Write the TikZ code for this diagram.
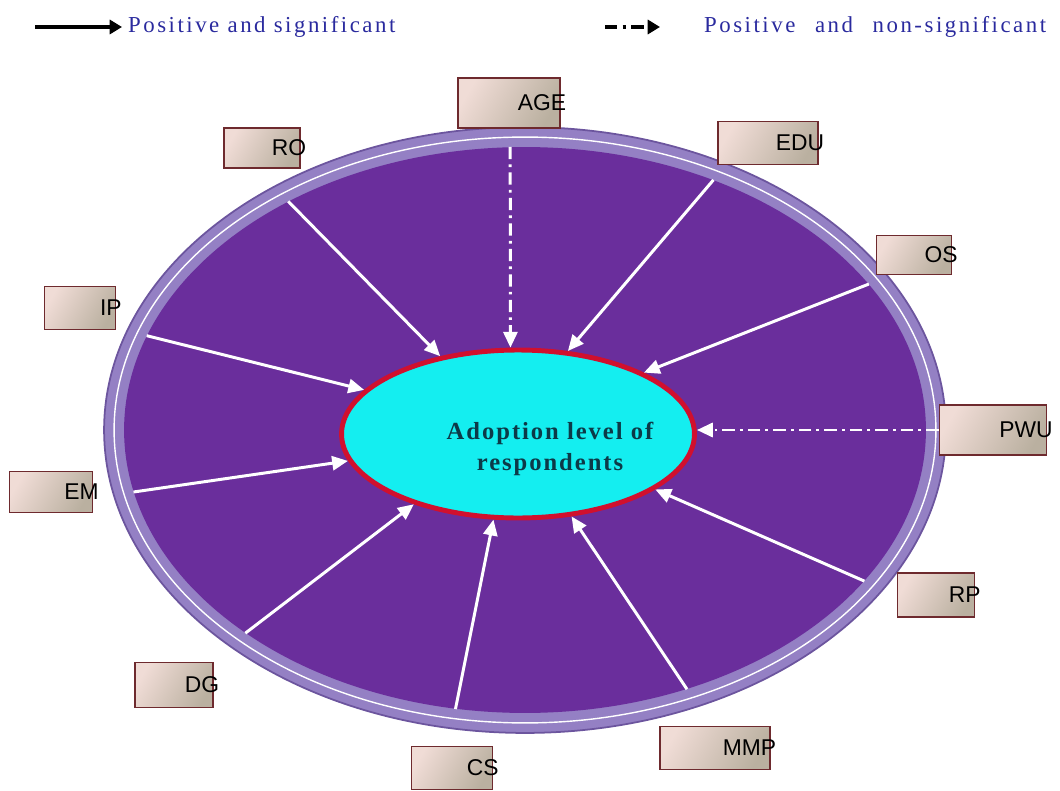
\documentclass[tikz,border=0pt]{standalone}
\usepackage{fontspec}
\setmainfont{Liberation Serif}
\newfontfamily\spacedfont[LetterSpace=8]{Liberation Serif}
\newfontfamily\legendfont[LetterSpace=11]{Liberation Serif}
\newfontfamily\factorfont{Liberation Sans}
\usetikzlibrary{calc}
\usetikzlibrary{shapes.geometric}
\usetikzlibrary{arrows.meta}

\definecolor{ringpurple}{HTML}{9480C4}
\definecolor{ringedge}{HTML}{6C559E}
\definecolor{diskpurple}{HTML}{6A2E9C}
\definecolor{adoptcyan}{HTML}{14EEF0}
\definecolor{adoptred}{HTML}{D0102E}
\definecolor{boxbrown}{HTML}{6E2A2E}
\definecolor{boxpink}{HTML}{F0DCD6}
\definecolor{boxtan}{HTML}{BAB0A0}
\definecolor{legendblue}{HTML}{2A2A9E}
\definecolor{centerteal}{HTML}{0C3A48}

\begin{document}
\begin{tikzpicture}[x=0.02cm,y=-0.02cm]

\tikzset{factor/.style 2 args={draw=boxbrown, line width=1.1pt, left color=boxpink, right color=boxtan, shading angle=60, minimum width=#1, text width=#1+7pt, inner xsep=-3.5pt, minimum height=#2, align=right, font=\factorfont\fontsize{13}{15}\selectfont},
	oval/.style={ellipse, inner sep=0pt},
	sigarrow/.style={draw=white, line width=1.7pt, -{Triangle[length=9pt,width=8pt]}},
	nsigarrow/.style={sigarrow, dash pattern=on 7pt off 3pt on 1.5pt off 3pt},
	legend/.style={anchor=west, text=legendblue, font=\legendfont\fontsize{13}{15}\selectfont}}

\useasboundingbox (0,0) rectangle (1060,790);

\coordinate (sigtail) at (35,27);
\node[legend] (sigtext) at (122,27) {Positive and significant};
\coordinate (nsigtail) at (605,27);
\node[legend] (nsigtext) at (698,27) {Positive\hspace*{6.5pt} and\hspace*{6.5pt} non-significant};
\draw[line width=2.2pt, -{Triangle[length=7pt,width=8pt]}] (sigtail) -- (sigtext.west);
\draw[line width=2.2pt, dash pattern=on 7pt off 3pt on 2pt off 3pt, -{Triangle[length=7pt,width=8pt]}] (nsigtail) -- ($(nsigtext.west)+(-38,0)$);

\node[oval, minimum width=16.84cm, minimum height=12.12cm, fill=ringpurple, draw=ringedge, line width=1pt] (ring) at (525,430) {};
\node[oval, minimum width=16.44cm, minimum height=11.72cm, draw=white, line width=0.8pt] (ringline) at (525,430) {};
\node[oval, minimum width=16.04cm, minimum height=11.32cm, fill=diskpurple] (disk) at (525,430) {};

\node[oval, minimum width=7.06cm, minimum height=3.36cm, fill=adoptcyan, draw=adoptred, line width=2.8pt] (adopt) at (518,434) {};
\node[text=centerteal, align=center, font=\spacedfont\fontsize{14}{18}\selectfont\bfseries] (adoptlbl) at (550,449) {Adoption level of\\respondents};

\node[factor={2.04cm}{1cm}] (age) at (509,103) {AGE};
\node[factor={2cm}{0.86cm}] (edu) at (768,143) {EDU};
\node[factor={1.5cm}{0.78cm}] (os) at (914,255) {OS};
\node[factor={2.14cm}{1cm}] (pwu) at (993,430) {PWU};
\node[factor={1.54cm}{0.88cm}] (rp) at (936,595) {RP};
\node[factor={2.2cm}{0.86cm}] (mmp) at (715,748) {MMP};
\node[factor={1.62cm}{0.86cm}] (cs) at (452,768) {CS};
\node[factor={1.56cm}{0.9cm}] (dg) at (174,685) {DG};
\node[factor={1.66cm}{0.82cm}] (em) at (51,492) {EM};
\node[factor={1.42cm}{0.86cm}] (ip) at (80,308) {IP};
\node[factor={1.52cm}{0.8cm}] (ro) at (262,148) {RO};

\foreach \from/\to in {136/135, 53/59, 23/26, -24/-22, -58/-57, -104/-106, 216/214, 189/189, 166/164}
	\draw[sigarrow] (disk.\from) -- (adopt.\to);
\draw[nsigarrow] (disk.93) -- (adopt.95);
\draw[nsigarrow] (pwu.west) -- (pwu.west -| adopt.east);
\end{tikzpicture}
\end{document}
